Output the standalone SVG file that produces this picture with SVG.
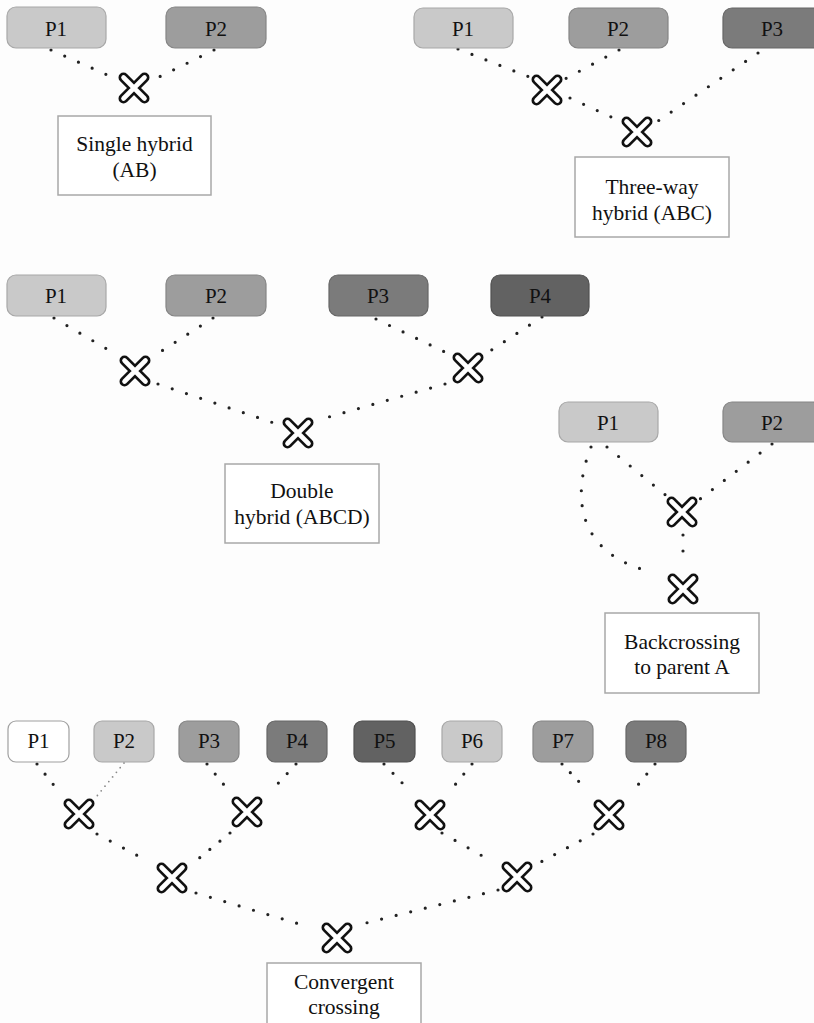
<svg xmlns="http://www.w3.org/2000/svg" xmlns:xlink="http://www.w3.org/1999/xlink" width="814" height="1023" viewBox="0 0 814 1023">
<style>
.n{stroke-width:1.2}
.c1{fill:#c9c9c9;stroke:#a8a8a8}
.c2{fill:#9d9d9d;stroke:#858585}
.c3{fill:#7b7b7b;stroke:#666}
.c4{fill:#626262;stroke:#505050}
.c0{fill:#ffffff;stroke:#a0a0a0}
.lbl{font-family:"Liberation Serif",serif;font-size:21px;fill:#111;text-anchor:middle}
.box{fill:#fff;stroke:#a8a8a8;stroke-width:1.5}
.btx{font-family:"Liberation Serif",serif;font-size:21.5px;fill:#111;text-anchor:middle}
.d{fill:none;stroke:#222;stroke-width:3.2;stroke-linecap:round;stroke-dasharray:0 15}
.df{fill:none;stroke:#8a8a8a;stroke-width:1.8;stroke-linecap:round;stroke-dasharray:0 6}
</style>
<defs>
<g id="xg">
<path d="M-10.5,-10.5 L10.5,10.5 M10.5,-10.5 L-10.5,10.5" stroke="#111" stroke-width="10" stroke-linecap="round" fill="none"/>
<path d="M-10.5,-10.5 L10.5,10.5 M10.5,-10.5 L-10.5,10.5" stroke="#fff" stroke-width="4.6" stroke-linecap="round" fill="none"/>
</g>
</defs>
<rect x="0" y="0" width="814" height="1023" fill="#fdfdfd"/>

<g id="connectors">
<line class="d" x1="51" y1="50" x2="112" y2="77"/>
<line class="d" x1="214" y1="50" x2="155" y2="79"/>
<line class="d" x1="458" y1="49" x2="532" y2="78"/>
<line class="d" x1="619" y1="50" x2="563" y2="80"/>
<line class="d" x1="570" y1="98" x2="622" y2="122"/>
<line class="d" x1="758" y1="53" x2="658" y2="121"/>
<line class="d" x1="54" y1="318" x2="112" y2="352"/>
<line class="d" x1="213" y1="318" x2="157" y2="354"/>
<line class="d" x1="158" y1="384" x2="280" y2="425"/>
<line class="d" x1="376" y1="319" x2="449" y2="354"/>
<line class="d" x1="542" y1="317" x2="487" y2="353"/>
<line class="d" x1="445" y1="384" x2="318" y2="420"/>
<line class="d" x1="607" y1="447" x2="668" y2="497"/>
<line class="d" x1="772" y1="444" x2="700" y2="499"/>
<line class="d" x1="683" y1="535" x2="683" y2="552" style="stroke-dasharray:0 16"/>
<path class="d" d="M591,447 C570,500 580,555 652,572"/>
<line class="d" x1="37" y1="764" x2="60" y2="793" style="stroke-dasharray:0 13"/>
<line class="df" x1="124" y1="763" x2="97" y2="796"/>
<line class="d" x1="207" y1="764" x2="229" y2="791" style="stroke-dasharray:0 13"/>
<line class="d" x1="296" y1="764" x2="272" y2="790" style="stroke-dasharray:0 13"/>
<line class="d" x1="384" y1="764" x2="409" y2="790" style="stroke-dasharray:0 13"/>
<line class="d" x1="472" y1="764" x2="450" y2="791" style="stroke-dasharray:0 13"/>
<line class="d" x1="562" y1="764" x2="586" y2="789" style="stroke-dasharray:0 12"/>
<line class="d" x1="655" y1="764" x2="633" y2="791" style="stroke-dasharray:0 13"/>
<line class="d" x1="97" y1="834" x2="142" y2="858"/>
<line class="d" x1="230" y1="833" x2="192" y2="864" style="stroke-dasharray:0 13"/>
<line class="d" x1="442" y1="833" x2="486" y2="858"/>
<line class="d" x1="593" y1="834" x2="537" y2="864" style="stroke-dasharray:0 14.5"/>
<line class="d" x1="196" y1="893" x2="306" y2="926"/>
<line class="d" x1="498" y1="890" x2="358" y2="925"/>
</g>

<g id="crosses">
<use xlink:href="#xg" href="#xg" x="134" y="88"/>
<use xlink:href="#xg" href="#xg" x="547" y="90"/>
<use xlink:href="#xg" href="#xg" x="637" y="132"/>
<use xlink:href="#xg" href="#xg" x="135" y="371"/>
<use xlink:href="#xg" href="#xg" x="468" y="368"/>
<use xlink:href="#xg" href="#xg" x="298" y="433"/>
<use xlink:href="#xg" href="#xg" x="682" y="512"/>
<use xlink:href="#xg" href="#xg" x="683" y="589"/>
<use xlink:href="#xg" href="#xg" x="79" y="814"/>
<use xlink:href="#xg" href="#xg" x="247" y="812"/>
<use xlink:href="#xg" href="#xg" x="430" y="815"/>
<use xlink:href="#xg" href="#xg" x="609" y="815"/>
<use xlink:href="#xg" href="#xg" x="172" y="878"/>
<use xlink:href="#xg" href="#xg" x="517" y="877"/>
<use xlink:href="#xg" href="#xg" x="337" y="938"/>
</g>

<g id="s1-p1"><rect class="n c1" x="7" y="7" width="99" height="41" rx="9"/><text class="lbl" x="56" y="36">P1</text></g>
<g id="s1-p2"><rect class="n c2" x="166" y="7" width="100" height="41" rx="9"/><text class="lbl" x="216" y="36">P2</text></g>
<g id="s1-result"><rect class="box" x="58" y="116" width="153" height="79"/><text class="btx" x="134.5" y="151">Single hybrid</text><text class="btx" x="134.5" y="177">(AB)</text></g>

<g id="s2-p1"><rect class="n c1" x="414" y="8" width="99" height="40" rx="9"/><text class="lbl" x="463" y="36">P1</text></g>
<g id="s2-p2"><rect class="n c2" x="569" y="8" width="99" height="40" rx="9"/><text class="lbl" x="618" y="36">P2</text></g>
<g id="s2-p3"><rect class="n c3" x="723" y="8" width="99" height="40" rx="9"/><text class="lbl" x="772" y="36">P3</text></g>
<g id="s2-result"><rect class="box" x="575" y="157" width="154" height="80"/><text class="btx" x="652" y="194">Three-way</text><text class="btx" x="652" y="220">hybrid (ABC)</text></g>

<g id="s3-p1"><rect class="n c1" x="7" y="275" width="99" height="41" rx="9"/><text class="lbl" x="56" y="303">P1</text></g>
<g id="s3-p2"><rect class="n c2" x="166" y="275" width="100" height="41" rx="9"/><text class="lbl" x="216" y="303">P2</text></g>
<g id="s3-p3"><rect class="n c3" x="329" y="275" width="99" height="41" rx="9"/><text class="lbl" x="378" y="303">P3</text></g>
<g id="s3-p4"><rect class="n c4" x="491" y="275" width="98" height="41" rx="9"/><text class="lbl" x="540" y="303">P4</text></g>
<g id="s3-result"><rect class="box" x="225" y="464" width="154" height="79"/><text class="btx" x="302" y="498">Double</text><text class="btx" x="302" y="524">hybrid (ABCD)</text></g>

<g id="s4-p1"><rect class="n c1" x="559" y="402" width="99" height="40" rx="9"/><text class="lbl" x="608" y="430">P1</text></g>
<g id="s4-p2"><rect class="n c2" x="723" y="402" width="99" height="40" rx="9"/><text class="lbl" x="772" y="430">P2</text></g>
<g id="s4-result"><rect class="box" x="605" y="613" width="154" height="80"/><text class="btx" x="682" y="649">Backcrossing</text><text class="btx" x="682" y="674">to parent A</text></g>

<g id="s5-p1"><rect class="n c0" x="8" y="721" width="61" height="41" rx="8"/><text class="lbl" x="38.5" y="748">P1</text></g>
<g id="s5-p2"><rect class="n c1" x="94" y="721" width="60" height="41" rx="8"/><text class="lbl" x="124" y="748">P2</text></g>
<g id="s5-p3"><rect class="n c2" x="179" y="721" width="60" height="41" rx="8"/><text class="lbl" x="209" y="748">P3</text></g>
<g id="s5-p4"><rect class="n c3" x="267" y="721" width="60" height="41" rx="8"/><text class="lbl" x="297" y="748">P4</text></g>
<g id="s5-p5"><rect class="n c4" x="354" y="721" width="61" height="41" rx="8"/><text class="lbl" x="384.5" y="748">P5</text></g>
<g id="s5-p6"><rect class="n c1" x="442" y="721" width="60" height="41" rx="8"/><text class="lbl" x="472" y="748">P6</text></g>
<g id="s5-p7"><rect class="n c2" x="533" y="721" width="60" height="41" rx="8"/><text class="lbl" x="563" y="748">P7</text></g>
<g id="s5-p8"><rect class="n c3" x="626" y="721" width="60" height="41" rx="8"/><text class="lbl" x="656" y="748">P8</text></g>
<g id="s5-result"><rect class="box" x="267" y="963" width="154" height="70"/><text class="btx" x="344" y="989">Convergent</text><text class="btx" x="344" y="1014">crossing</text></g>
</svg>
